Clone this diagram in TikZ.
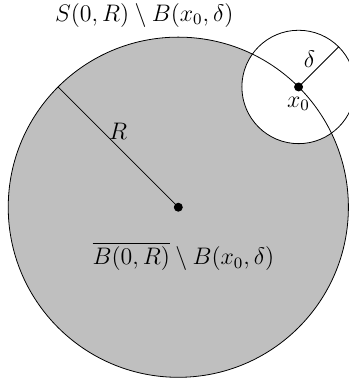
\documentclass[tikz,border=0pt]{standalone}
\usepackage{amsmath}
\usepackage{amssymb}
\usepackage{tikz}
\usetikzlibrary{positioning,calc}

\begin{document}
\begin{tikzpicture}[
    font=\large,
    dot/.style={circle, fill=black, inner sep=0pt, minimum size=4.5pt},
    ball/.style={draw=black},
  ]
    \useasboundingbox (-3.145,-3.065) rectangle (3.01,3.655);

    \coordinate (O) at (0,0);
    \coordinate (x0) at (45:3);
    \coordinate (rim) at (135:3);
    \coordinate (del) at ($(x0)+(45:1)$);

    \fill[black!25] (O) circle (3);
    \fill[white] (x0) circle (1);
    \draw[ball] (O) circle (3);
    \draw[ball] (x0) circle (1);

    \draw (O) -- node[pos=0.5, above, inner sep=3.5pt] {$R$} (rim);
    \draw (x0) -- node[pos=0.45, above left, inner sep=0.5pt] {$\delta$} (del);

    \node[dot] (c) at (O) {};
    \node[dot] (p) at (x0) {};
    \node[below=-1pt of p] (lx) {$x_0$};

    \node (sph) at (-0.6,3.39) {$S(0,R)\setminus B(x_0,\delta)$};
    \node (cl) at (0.09,-0.87) {$\overline{B(0,R)}\setminus B(x_0,\delta)$};
  \end{tikzpicture}
\end{document}
